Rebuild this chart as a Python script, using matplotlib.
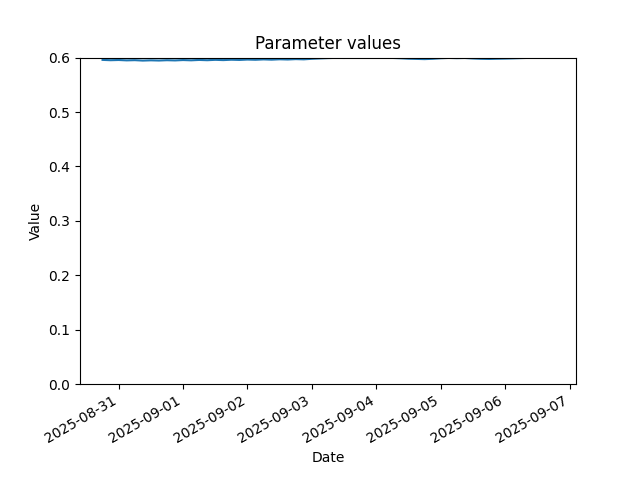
import pandas as pd
import matplotlib
matplotlib.use("Agg")
import matplotlib.pyplot as plt
import matplotlib.dates as mdates

# 3-hourly samples, 2025-08-30 18:00 .. 2025-09-06 18:00
start = "2025-08-30 18:00"
values = [
    0.5958, 0.5952,
    0.5956, 0.5949, 0.5953, 0.5945, 0.5950, 0.5946, 0.5952, 0.5948,
    0.5955, 0.5950, 0.5957, 0.5952, 0.5959, 0.5954, 0.5961, 0.5957,
    0.5964, 0.5960, 0.5967, 0.5962, 0.5969, 0.5965, 0.5972, 0.5968,
    0.5978, 0.5985, 0.5991, 0.5995, 0.5993, 0.5997, 0.5994, 0.5998,
    0.5995, 0.5998, 0.5994, 0.5988, 0.5980, 0.5976, 0.5972, 0.5978,
    0.5988, 0.5994, 0.5990, 0.5993, 0.5984, 0.5978, 0.5975, 0.5979,
    0.5982, 0.5986, 0.5991, 0.5995, 0.5998, 0.5999, 0.6000,
]
dates = pd.date_range(start, periods=len(values), freq="3h")

fig, ax = plt.subplots(figsize=(6.4, 4.8), dpi=100)
ax.plot(dates, values)
ax.set_ylim(0, 0.6)
ax.xaxis.set_major_locator(mdates.DayLocator())
ax.xaxis.set_major_formatter(mdates.DateFormatter("%Y-%m-%d"))
ax.set_title("Parameter values")
ax.set_xlabel("Date")
ax.set_ylabel("Value")
fig.autofmt_xdate()

fig.savefig("out.png")
